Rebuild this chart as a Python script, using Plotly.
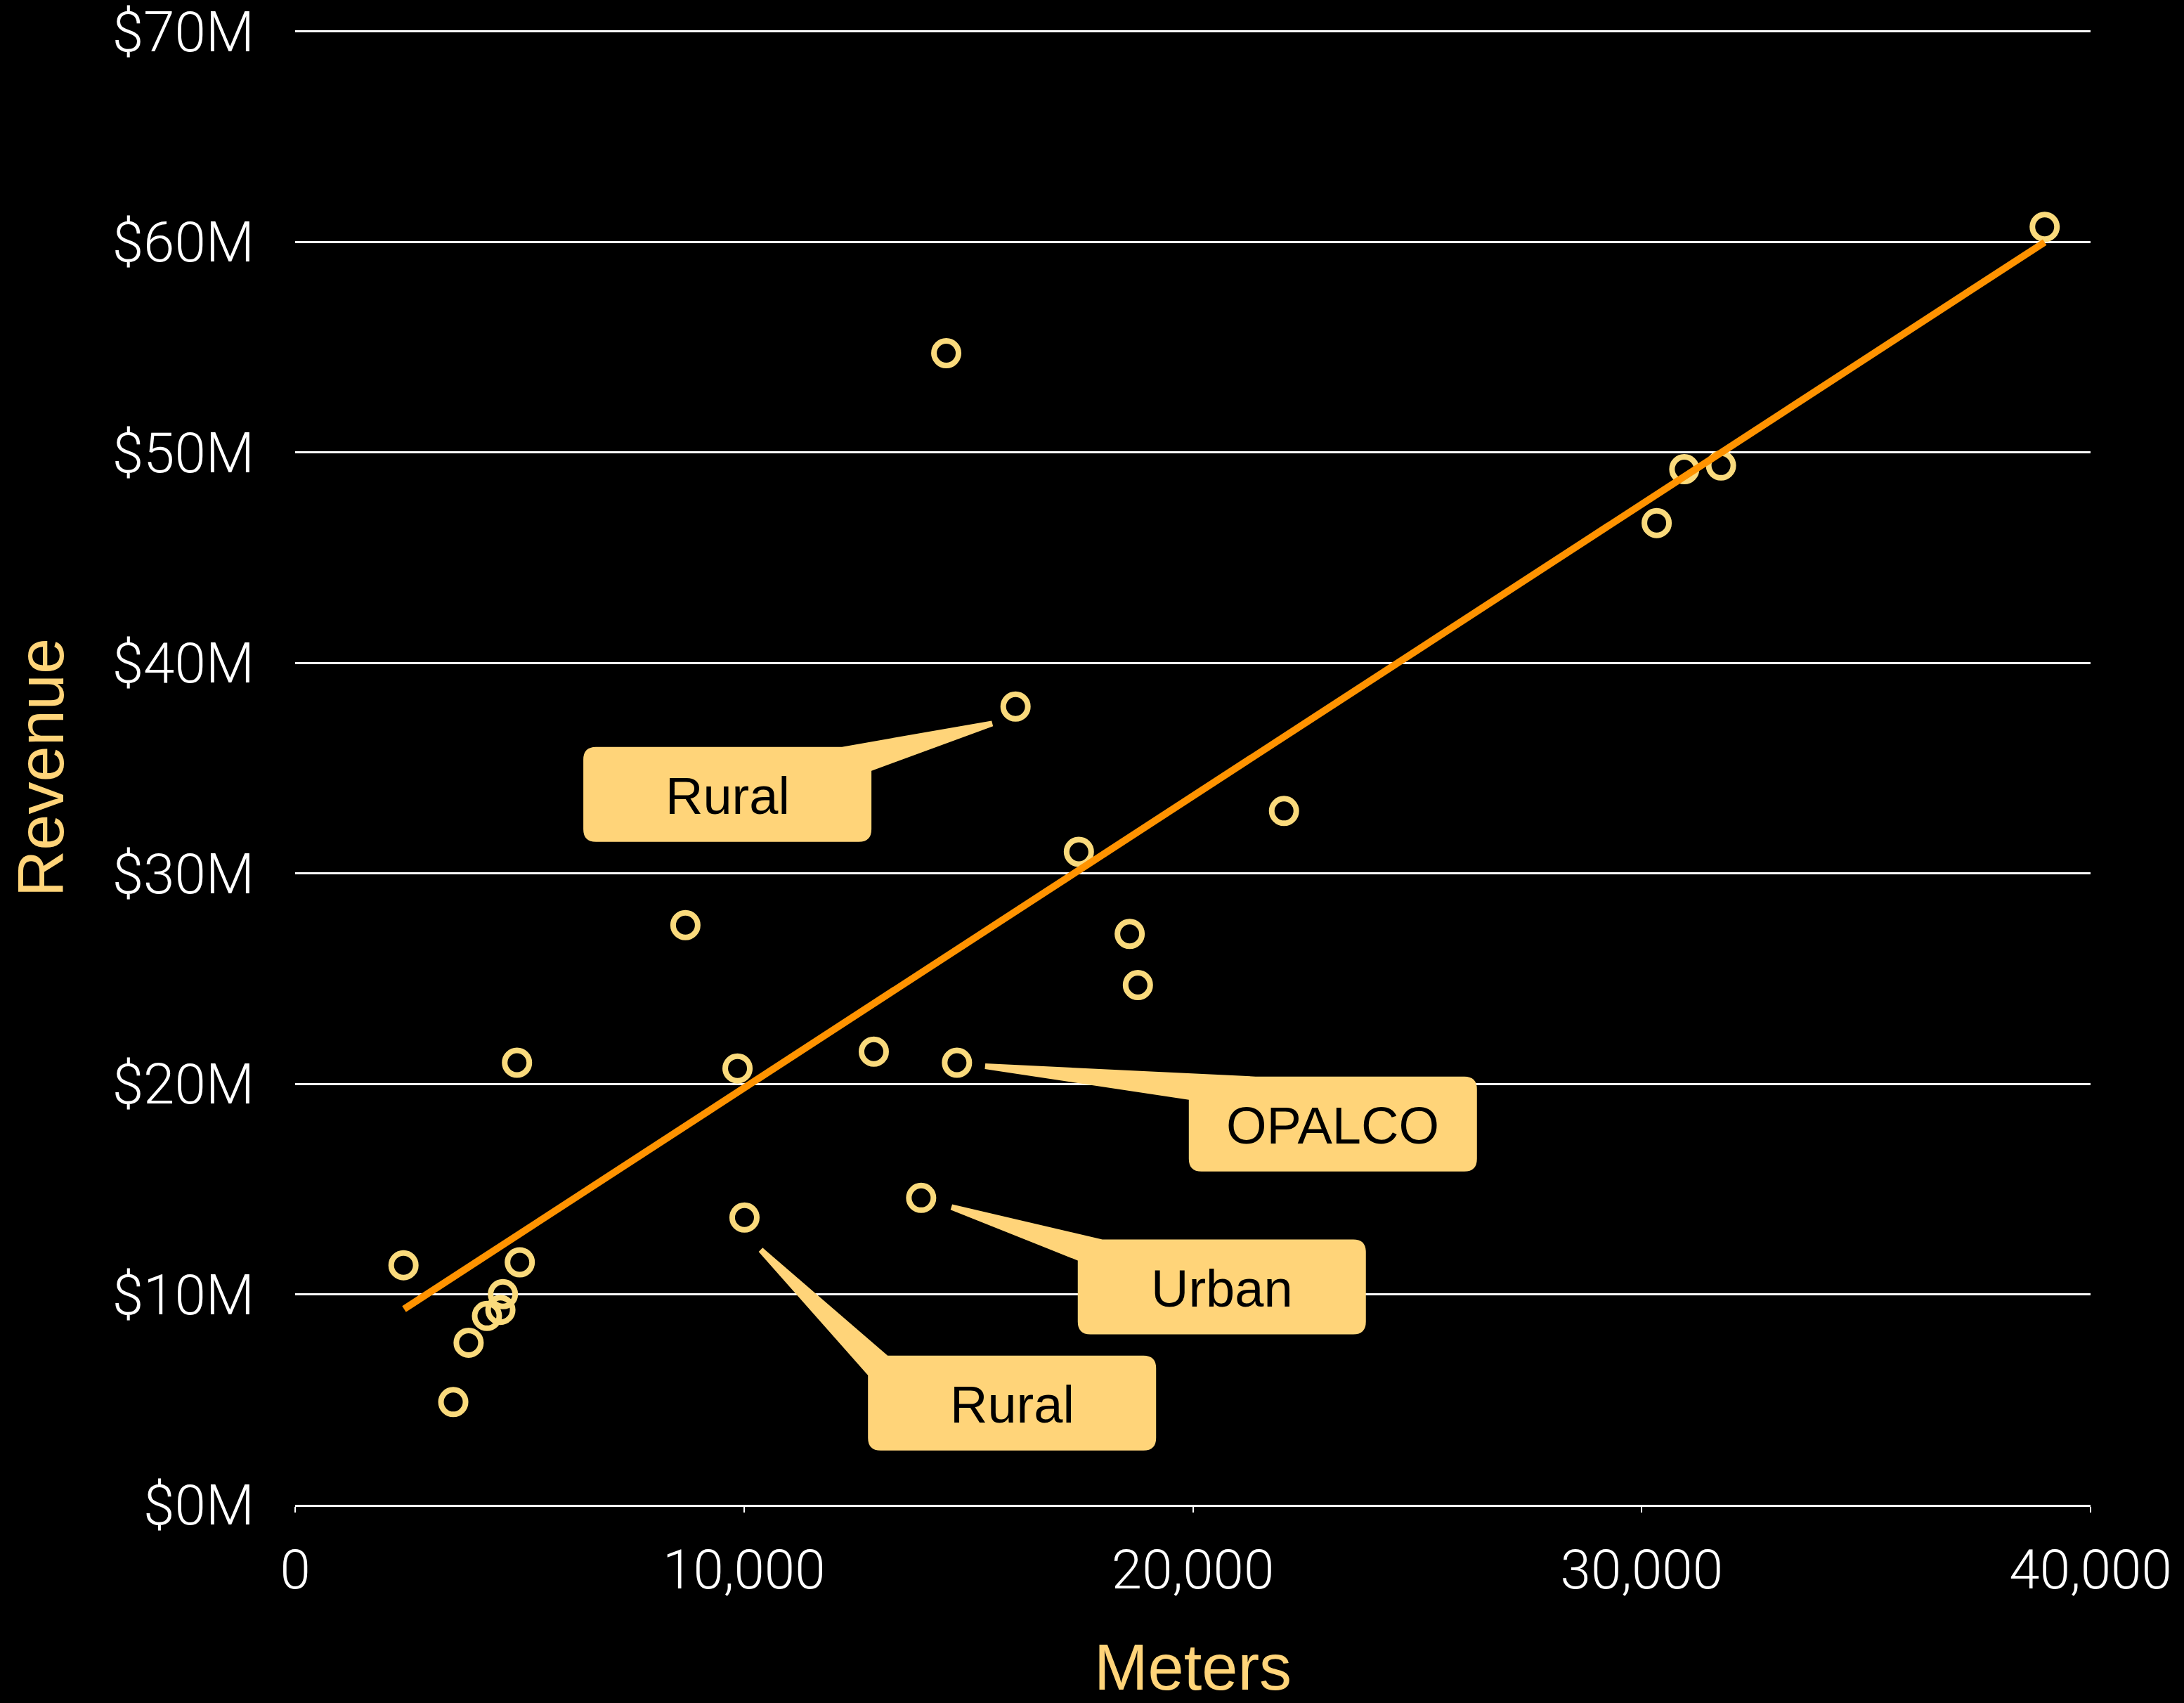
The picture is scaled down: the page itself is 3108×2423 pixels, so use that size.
import plotly.graph_objects as go

# ---------------- data ----------------
meters = [2414, 3523, 3865, 4274, 4573, 4629, 5005, 4943, 8695, 9856, 10011, 12892,
          13947, 14506, 14745, 16050, 17461, 18593, 18776, 22031, 30334, 30949, 31767, 38978]
revenue_m = [11.38, 4.88, 7.70, 8.97, 9.26, 10.01, 11.52, 21.0, 27.54, 20.73, 13.65, 21.53,
             14.58, 54.71, 21.0, 37.92, 31.02, 27.12, 24.69, 32.96, 46.64, 49.2, 49.37, 60.71]

trend_x = [2427, 38978]
trend_y = [9.30, 59.98]

x_ticks = [0, 10000, 20000, 30000, 40000]
y_ticks = [0, 10, 20, 30, 40, 50, 60, 70]
y_ticktext = ["$" + str(v) + "M" for v in y_ticks]

callout_labels = ["Rural", "OPALCO", "Urban", "Rural"]
callout_targets = [15, 14, 12, 10]          # index of the point each callout points to
callout_box_x = [9630, 23120, 20646, 15972]  # box centre, meters
callout_box_y = [33.75, 18.09, 10.35, 4.835]  # box centre, $M

# ---------------- geometry / style ----------------
W, H = 3108, 2423
ML, MR, MT, MB = 420, 133, 43, 282
PW, PH = W - ML - MR, H - MT - MB
XR, YR = (0, 40000), (0, 70.05)

CANTALOUPE = "#FFD479"
RING = "#FADA7C"
TANGERINE = "#FF9300"


def to_px(x, y):
    return (ML + (x - XR[0]) / (XR[1] - XR[0]) * PW,
            MT + PH - (y - YR[0]) / (YR[1] - YR[0]) * PH)


def to_data(px, py):
    return (XR[0] + (px - ML) / PW * (XR[1] - XR[0]),
            YR[0] + (MT + PH - py) / PH * (YR[1] - YR[0]))


BOX_W, BOX_H, RAD = 410, 135, 18
# tail settings per callout: side ('R' or 'L'), base offset on top edge, base offset on side edge,
# tip-centre offset from target (px)
tail_side = ["R", "L", "L", "L"]
tail_top_off = [42, 95, 35, 28]
tail_side_off = [34, 33, 30, 28]
tail_tip_off = [(-33, 24), (40, 5), (43, 13), (23, 46)]
TIP_HALF = 4


def callout_path(i):
    cx, cy = to_px(callout_box_x[i], callout_box_y[i])
    L, R = cx - BOX_W / 2, cx + BOX_W / 2
    T, B = cy - BOX_H / 2, cy + BOX_H / 2
    tx, ty = to_px(meters[callout_targets[i]], revenue_m[callout_targets[i]])
    tcx, tcy = tx + tail_tip_off[i][0], ty + tail_tip_off[i][1]
    if tail_side[i] == "R":
        top_base = (R - tail_top_off[i], T)
        side_base = (R, T + tail_side_off[i])
    else:
        top_base = (L + tail_top_off[i], T)
        side_base = (L, T + tail_side_off[i])
    mx, my = (top_base[0] + side_base[0]) / 2, (top_base[1] + side_base[1]) / 2
    dx, dy = mx - tcx, my - tcy
    n = (dx * dx + dy * dy) ** 0.5
    nx, ny = -dy / n * TIP_HALF, dx / n * TIP_HALF
    p1, p2 = (tcx + nx, tcy + ny), (tcx - nx, tcy - ny)

    def d2(a, b):
        return (a[0] - b[0]) ** 2 + (a[1] - b[1]) ** 2
    if d2(p1, side_base) < d2(p2, side_base):
        tip_side, tip_top = p1, p2
    else:
        tip_side, tip_top = p2, p1

    segs = []
    if tail_side[i] == "R":
        pts = [("M", (L + RAD, T)), ("L", top_base), ("L", tip_top), ("L", tip_side),
               ("L", side_base), ("L", (R, B - RAD)), ("Q", (R, B), (R - RAD, B)),
               ("L", (L + RAD, B)), ("Q", (L, B), (L, B - RAD)), ("L", (L, T + RAD)),
               ("Q", (L, T), (L + RAD, T))]
    else:
        pts = [("M", top_base), ("L", (R - RAD, T)), ("Q", (R, T), (R, T + RAD)),
               ("L", (R, B - RAD)), ("Q", (R, B), (R - RAD, B)), ("L", (L + RAD, B)),
               ("Q", (L, B), (L, B - RAD)), ("L", side_base), ("L", tip_side), ("L", tip_top)]
    for p in pts:
        cmd = p[0]
        coords = []
        for q in p[1:]:
            x, y = to_data(*q)
            coords.append(f"{x:.2f},{y:.5f}")
        segs.append(cmd + " " + " ".join(coords))
    return " ".join(segs) + " Z"


fig = go.Figure()

fig.add_trace(go.Scatter(
    x=meters, y=revenue_m, mode="markers",
    marker=dict(symbol="circle", size=35, color="rgba(0,0,0,0)",
                line=dict(color=RING, width=8)),
    showlegend=False, hoverinfo="skip"))

fig.add_trace(go.Scatter(
    x=trend_x, y=trend_y, mode="lines",
    line=dict(color=TANGERINE, width=10),
    showlegend=False, hoverinfo="skip"))

shapes = []
annotations = []
for i, lab in enumerate(callout_labels):
    shapes.append(dict(type="path", xref="x", yref="y", path=callout_path(i),
                       fillcolor=CANTALOUPE, line=dict(width=0), layer="above"))
    annotations.append(dict(x=callout_box_x[i], y=callout_box_y[i], xref="x", yref="y",
                            text=lab, showarrow=False, xanchor="center", yanchor="middle",
                            yshift=-2,
                            font=dict(family="Liberation Sans, Arial, sans-serif",
                                      size=74, color="black")))

tick_font = dict(family="Roboto, Liberation Sans, sans-serif", size=80, color="white", weight=300)
title_font = dict(family="Liberation Sans, Arial, sans-serif", size=92, color=CANTALOUPE)

fig.update_layout(
    width=W, height=H,
    margin=dict(l=ML, r=MR, t=MT, b=MB, autoexpand=False),
    paper_bgcolor="black", plot_bgcolor="black",
    shapes=shapes, annotations=annotations,
    xaxis=dict(range=list(XR), tickvals=x_ticks, tickformat=",d",
               showgrid=False, zeroline=False,
               showline=True, linecolor="white", linewidth=2.5,
               ticks="outside", ticklen=8, tickwidth=2, tickcolor="white",
               tickfont=dict(family="Roboto, Liberation Sans, sans-serif", size=78,
                             color="white", weight=300),
               ticklabelstandoff=15, automargin=False, ticklabeloverflow="allow",
               title=dict(text="Meters", font=title_font, standoff=105)),
    yaxis=dict(range=list(YR), tickvals=y_ticks, ticktext=y_ticktext,
               showgrid=True, gridcolor="white", gridwidth=2.5,
               zeroline=False, showline=False, ticks="",
               tickfont=tick_font, ticklabelstandoff=57, automargin=False,
               ticklabeloverflow="allow",
               title=dict(text="Revenue", font=title_font, standoff=38)),
)

fig.write_html("out.html")
